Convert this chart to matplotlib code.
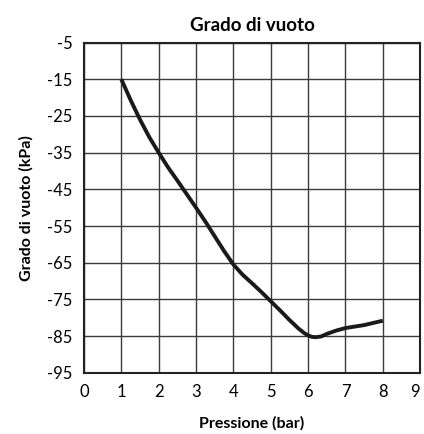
import matplotlib.pyplot as plt

plt.rcParams['font.family'] = ['Lato', 'DejaVu Sans']
plt.rcParams['axes.unicode_minus'] = False

# values
pressure = [1, 1.25, 1.5, 1.75, 2, 2.25, 2.5, 2.75, 3, 3.25, 3.5, 3.75, 4,
            4.25, 4.5, 4.75, 5, 5.25, 5.5, 5.75, 5.9, 6, 6.1, 6.2, 6.35,
            6.5, 6.75, 7, 7.5, 8]
vacuum = [-15, -20.7, -26, -30.8, -35, -39, -42.6, -46.3, -50, -53.8, -57.8,
          -61.8, -65.5, -68.3, -70.6, -73, -75.5, -78, -80.6, -83, -84.2,
          -84.8, -85.2, -85.3, -85.1, -84.4, -83.5, -82.8, -82, -80.8]

x_ticks = list(range(0, 10))
y_ticks = list(range(-95, 0, 10))

fig = plt.figure(figsize=(4.24, 4.34), dpi=100)
ax = fig.add_axes([0.198, 0.141, 0.793, 0.761])

ax.plot(pressure, vacuum, color='#1a1a1a', linewidth=2.8,
        solid_capstyle='butt', solid_joinstyle='round', zorder=3)

ax.set_xlim(0, 9)
ax.set_ylim(-95, -5)
ax.set_xticks(x_ticks)
ax.set_yticks(y_ticks)
ax.grid(True, color='#3a3a3a', linewidth=1.0)
ax.tick_params(length=0, labelsize=12, pad=8)
for s in ax.spines.values():
    s.set_linewidth(1.5)
    s.set_color('#222222')

# last label sits just inside the figure edge
ax.get_xticklabels()[-1].set_horizontalalignment('right')

ax.set_title('Grado di vuoto', fontsize=13.5, fontweight='bold', pad=8)
ax.set_xlabel('Pressione (bar)', fontsize=11.5, fontweight='bold', labelpad=12)
ax.set_ylabel('Grado di vuoto (kPa)', fontsize=11.5, fontweight='bold', labelpad=10)

fig.savefig('out.png', dpi=100)
